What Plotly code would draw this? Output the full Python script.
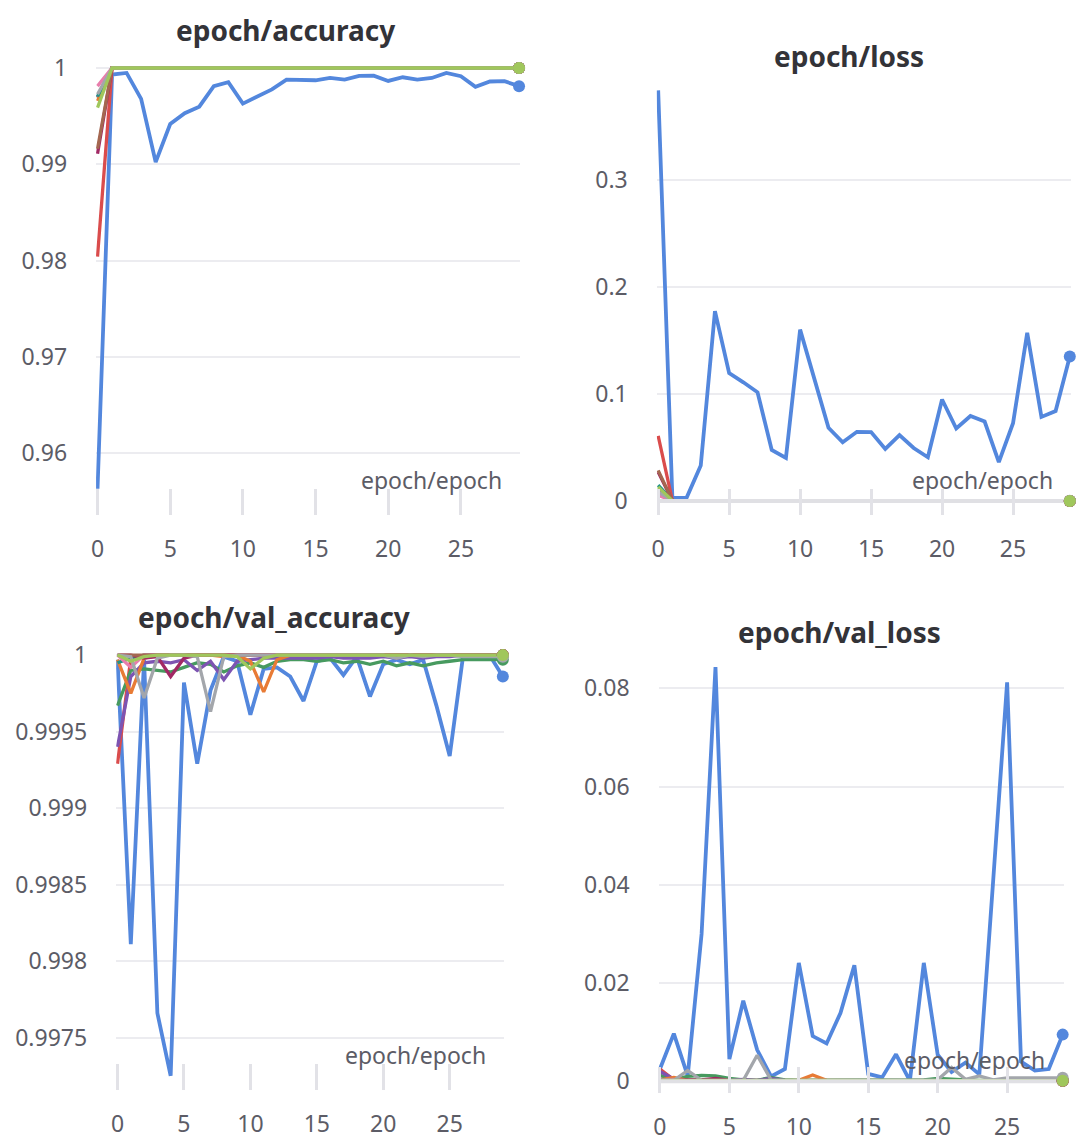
import plotly.graph_objects as go

# ---------------- data ----------------
epochs = list(range(30))

run_names = ["blue", "red", "green", "purple", "orange", "teal", "maroon", "pink", "brown", "grey", "lightgreen"]
run_colors = ["#5387DD", "#DA4C4C", "#479A5F", "#7D54B2", "#E87B35", "#229487", "#A12864", "#E87EAC", "#A46750", "#A3A6AB", "#A0C75C"]

# epoch/accuracy
acc_blue = [0.9563, 0.99932, 0.99949, 0.9968, 0.99023, 0.99418, 0.99531, 0.99599, 0.99812, 0.99853, 0.9963, 0.99702, 0.99778, 0.9988, 0.99873, 0.99873, 0.99897, 0.9988, 0.99918, 0.99921, 0.99866, 0.99904, 0.9988, 0.99897, 0.99949, 0.99915, 0.99805, 0.9986, 0.99863, 0.99812]
acc_red = [0.98041, 1.0, 1.0, 1.0, 1.0, 1.0, 1.0, 1.0, 1.0, 1.0, 1.0, 1.0, 1.0, 1.0, 1.0, 1.0, 1.0, 1.0, 1.0, 1.0, 1.0, 1.0, 1.0, 1.0, 1.0, 1.0, 1.0, 1.0, 1.0, 1.0]
acc_green = [0.99692, 1.0, 1.0, 1.0, 1.0, 1.0, 1.0, 1.0, 1.0, 1.0, 1.0, 1.0, 1.0, 1.0, 1.0, 1.0, 1.0, 1.0, 1.0, 1.0, 1.0, 1.0, 1.0, 1.0, 1.0, 1.0, 1.0, 1.0, 1.0, 1.0]
acc_purple = [0.99700, 1.0, 1.0, 1.0, 1.0, 1.0, 1.0, 1.0, 1.0, 1.0, 1.0, 1.0, 1.0, 1.0, 1.0, 1.0, 1.0, 1.0, 1.0, 1.0, 1.0, 1.0, 1.0, 1.0, 1.0, 1.0, 1.0, 1.0, 1.0, 1.0]
acc_orange = [0.99658, 1.0, 1.0, 1.0, 1.0, 1.0, 1.0, 1.0, 1.0, 1.0, 1.0, 1.0, 1.0, 1.0, 1.0, 1.0, 1.0, 1.0, 1.0, 1.0, 1.0, 1.0, 1.0, 1.0, 1.0, 1.0, 1.0, 1.0, 1.0, 1.0]
acc_teal = [0.99705, 1.0, 1.0, 1.0, 1.0, 1.0, 1.0, 1.0, 1.0, 1.0, 1.0, 1.0, 1.0, 1.0, 1.0, 1.0, 1.0, 1.0, 1.0, 1.0, 1.0, 1.0, 1.0, 1.0, 1.0, 1.0, 1.0, 1.0, 1.0, 1.0]
acc_maroon = [0.9911, 1.0, 1.0, 0.99997, 1.0, 1.0, 0.99998, 0.99996, 1.0, 1.0, 1.0, 1.0, 0.99994, 1.0, 1.0, 1.0, 1.0, 1.0, 1.0, 1.0, 1.0, 1.0, 1.0, 1.0, 1.0, 1.0, 1.0, 1.0, 1.0, 1.0]
acc_pink = [0.99812, 1.0, 1.0, 1.0, 1.0, 1.0, 1.0, 1.0, 1.0, 1.0, 1.0, 1.0, 1.0, 1.0, 1.0, 1.0, 1.0, 1.0, 1.0, 1.0, 1.0, 1.0, 1.0, 1.0, 1.0, 1.0, 1.0, 1.0, 1.0, 1.0]
acc_brown = [0.99161, 1.0, 1.0, 1.0, 1.0, 1.0, 1.0, 1.0, 1.0, 1.0, 1.0, 1.0, 1.0, 1.0, 1.0, 1.0, 1.0, 1.0, 1.0, 1.0, 1.0, 1.0, 1.0, 1.0, 1.0, 1.0, 1.0, 1.0, 1.0, 1.0]
acc_grey = [0.99727, 1.0, 1.0, 1.0, 1.0, 1.0, 1.0, 1.0, 1.0, 1.0, 1.0, 1.0, 1.0, 1.0, 1.0, 1.0, 1.0, 1.0, 1.0, 1.0, 1.0, 1.0, 1.0, 1.0, 1.0, 1.0, 1.0, 1.0, 1.0, 1.0]
acc_lightgreen = [0.99589, 1.0, 1.0, 1.0, 1.0, 1.0, 1.0, 1.0, 1.0, 1.0, 1.0, 1.0, 1.0, 1.0, 1.0, 1.0, 1.0, 1.0, 1.0, 1.0, 1.0, 1.0, 1.0, 1.0, 1.0, 1.0, 1.0, 1.0, 1.0, 1.0]

# epoch/loss
loss_blue = [0.3833, 0.003, 0.003, 0.0332, 0.1772, 0.1194, 0.1108, 0.1015, 0.0477, 0.0403, 0.16, 0.1148, 0.0683, 0.0548, 0.0646, 0.0643, 0.0486, 0.0615, 0.0495, 0.0409, 0.0948, 0.0677, 0.0794, 0.0742, 0.0363, 0.0726, 0.1569, 0.0785, 0.084, 0.1348]
loss_red = [0.0609, 0.0004, 0.0003, 0.0002, 0.0002, 0.0002, 0.0001, 0.0002, 0.0001, 0.0001, 0.0001, 0.0001, 0.0002, 0.0001, 0.0001, 0.0001, 0.0001, 0.0001, 0.0001, 0.0001, 0.0001, 0.0001, 0.0001, 0.0001, 0.0001, 0.0001, 0.0001, 0.0001, 0.0001, 0.0001]
loss_green = [0.0116, 0.0004, 0.0003, 0.0002, 0.0002, 0.0002, 0.0002, 0.0002, 0.0002, 0.0001, 0.0001, 0.0001, 0.0001, 0.0001, 0.0001, 0.0001, 0.0001, 0.0001, 0.0001, 0.0001, 0.0001, 0.0001, 0.0001, 0.0001, 0.0001, 0.0001, 0.0001, 0.0001, 0.0001, 0.0001]
loss_purple = [0.0090, 0.0003, 0.0002, 0.0002, 0.0002, 0.0001, 0.0001, 0.0002, 0.0006, 0.0002, 0.0001, 0.0001, 0.0001, 0.0001, 0.0001, 0.0001, 0.0001, 0.0001, 0.0001, 0.0001, 0.0001, 0.0001, 0.0001, 0.0001, 0.0001, 0.0001, 0.0001, 0.0001, 0.0001, 0.0001]
loss_orange = [0.0080, 0.0003, 0.0002, 0.0002, 0.0001, 0.0001, 0.0001, 0.0001, 0.0001, 0.0001, 0.0001, 0.0001, 0.0001, 0.0001, 0.0001, 0.0001, 0.0001, 0.0001, 0.0001, 0.0001, 0.0001, 0.0001, 0.0001, 0.0001, 0.0001, 0.0001, 0.0001, 0.0001, 0.0001, 0.0001]
loss_teal = [0.0148, 0.0004, 0.0002, 0.0002, 0.0001, 0.0001, 0.0001, 0.0001, 0.0001, 0.0001, 0.0001, 0.0001, 0.0001, 0.0001, 0.0001, 0.0001, 0.0001, 0.0001, 0.0001, 0.0001, 0.0001, 0.0001, 0.0001, 0.0001, 0.0001, 0.0001, 0.0001, 0.0001, 0.0001, 0.0001]
loss_maroon = [0.0270, 0.0004, 0.0003, 0.0004, 0.0002, 0.0002, 0.0003, 0.0004, 0.0002, 0.0002, 0.0001, 0.0001, 0.0005, 0.0001, 0.0001, 0.0001, 0.0001, 0.0001, 0.0001, 0.0001, 0.0001, 0.0001, 0.0001, 0.0001, 0.0001, 0.0001, 0.0001, 0.0001, 0.0001, 0.0001]
loss_pink = [0.0055, 0.0003, 0.0002, 0.0001, 0.0001, 0.0001, 0.0001, 0.0001, 0.0001, 0.0001, 0.0001, 0.0001, 0.0001, 0.0001, 0.0001, 0.0001, 0.0001, 0.0001, 0.0001, 0.0001, 0.0001, 0.0001, 0.0001, 0.0001, 0.0001, 0.0001, 0.0001, 0.0001, 0.0001, 0.0001]
loss_brown = [0.0286, 0.0005, 0.0003, 0.0002, 0.0002, 0.0001, 0.0001, 0.0001, 0.0001, 0.0001, 0.0001, 0.0001, 0.0001, 0.0001, 0.0001, 0.0001, 0.0001, 0.0001, 0.0001, 0.0001, 0.0001, 0.0001, 0.0001, 0.0001, 0.0001, 0.0001, 0.0001, 0.0001, 0.0001, 0.0001]
loss_grey = [0.0085, 0.0004, 0.0003, 0.0002, 0.0002, 0.0002, 0.0002, 0.0003, 0.0002, 0.0002, 0.0002, 0.0002, 0.0002, 0.0002, 0.0004, 0.0002, 0.0002, 0.0002, 0.0002, 0.0002, 0.0002, 0.0002, 0.0002, 0.0002, 0.0002, 0.0002, 0.0002, 0.0002, 0.0002, 0.0002]
loss_lightgreen = [0.0132, 0.0004, 0.0002, 0.0002, 0.0001, 0.0001, 0.0001, 0.0001, 0.0001, 0.0001, 0.0001, 0.0001, 0.0001, 0.0001, 0.0001, 0.0001, 0.0001, 0.0001, 0.0001, 0.0001, 0.0001, 0.0001, 0.0001, 0.0001, 0.0001, 0.0001, 0.0001, 0.0001, 0.0001, 0.0001]

# epoch/val_accuracy
vacc_blue = [0.99997, 0.99811, 0.99997, 0.99766, 0.99725, 0.99982, 0.99929, 0.99977, 0.99999, 0.99996, 0.99961, 0.99991, 0.99992, 0.99986, 0.9997, 0.99996, 0.99998, 0.99987, 0.99999, 0.99973, 0.99994, 0.99997, 0.99994, 0.99997, 0.99967, 0.99934, 0.99999, 1.0, 1.0, 0.99986]
vacc_red = [0.99929, 0.99998, 1.0, 1.0, 1.0, 1.0, 1.0, 1.0, 1.0, 1.0, 1.0, 1.0, 1.0, 1.0, 1.0, 1.0, 1.0, 1.0, 1.0, 1.0, 1.0, 1.0, 1.0, 1.0, 1.0, 1.0, 1.0, 1.0, 1.0, 1.0]
vacc_green = [0.99967, 0.9999, 0.99991, 0.9999, 0.99989, 0.99992, 0.99995, 0.99994, 0.99989, 0.99993, 0.99995, 0.99992, 0.99996, 0.99997, 0.99997, 0.99996, 0.99997, 0.99995, 0.99996, 0.99994, 0.99996, 0.99993, 0.99995, 0.99993, 0.99995, 0.99996, 0.99997, 0.99997, 0.99997, 0.99997]
vacc_purple = [0.9994, 0.99986, 0.99995, 0.99996, 0.99995, 0.99997, 0.9999, 0.99996, 0.99984, 0.99996, 0.99997, 0.99998, 0.99998, 0.99998, 0.99998, 0.99998, 0.99999, 0.99998, 0.99998, 0.99998, 0.99999, 0.99998, 0.99999, 0.99998, 0.99999, 0.99999, 1.0, 1.0, 1.0, 1.0]
vacc_orange = [0.99997, 0.99975, 0.99998, 1.0, 1.0, 1.0, 1.0, 1.0, 0.99999, 1.0, 0.99996, 0.99976, 0.99997, 1.0, 1.0, 1.0, 1.0, 1.0, 1.0, 1.0, 1.0, 1.0, 1.0, 1.0, 1.0, 1.0, 1.0, 1.0, 1.0, 1.0]
vacc_teal = [0.99995, 0.99998, 1.0, 1.0, 1.0, 1.0, 1.0, 1.0, 1.0, 1.0, 1.0, 1.0, 1.0, 1.0, 1.0, 1.0, 1.0, 1.0, 1.0, 1.0, 1.0, 1.0, 1.0, 1.0, 1.0, 1.0, 1.0, 1.0, 1.0, 1.0]
vacc_maroon = [1.0, 1.0, 0.99998, 0.99999, 0.99986, 0.99998, 1.0, 1.0, 1.0, 1.0, 1.0, 1.0, 1.0, 1.0, 1.0, 1.0, 1.0, 1.0, 1.0, 1.0, 1.0, 1.0, 1.0, 1.0, 1.0, 1.0, 1.0, 1.0, 1.0, 1.0]
vacc_pink = [1.0, 0.99992, 1.0, 1.0, 1.0, 1.0, 1.0, 1.0, 1.0, 1.0, 1.0, 1.0, 1.0, 1.0, 1.0, 1.0, 1.0, 1.0, 1.0, 1.0, 1.0, 1.0, 1.0, 1.0, 1.0, 1.0, 1.0, 1.0, 1.0, 1.0]
vacc_brown = [1.0, 1.0, 1.0, 1.0, 1.0, 1.0, 1.0, 1.0, 1.0, 1.0, 1.0, 1.0, 1.0, 1.0, 1.0, 1.0, 1.0, 1.0, 1.0, 1.0, 1.0, 1.0, 1.0, 1.0, 1.0, 1.0, 1.0, 1.0, 1.0, 1.0]
vacc_grey = [1.0, 0.99999, 0.99972, 0.99998, 1.0, 1.0, 0.99999, 0.99963, 0.99999, 1.0, 1.0, 1.0, 1.0, 1.0, 1.0, 1.0, 1.0, 1.0, 1.0, 1.0, 1.0, 0.99998, 1.0, 0.99999, 1.0, 1.0, 0.99999, 0.99999, 0.99999, 0.99999]
vacc_lightgreen = [1.0, 0.99996, 0.99999, 1.0, 1.0, 1.0, 1.0, 1.0, 1.0, 0.99999, 0.99991, 0.99998, 1.0, 1.0, 1.0, 1.0, 1.0, 1.0, 1.0, 1.0, 1.0, 1.0, 1.0, 1.0, 1.0, 1.0, 1.0, 1.0, 1.0, 1.0]

# epoch/val_loss
vloss_blue = [0.0025, 0.0097, 0.0011, 0.030, 0.0843, 0.0045, 0.0164, 0.0064, 0.001, 0.0025, 0.0241, 0.0092, 0.0077, 0.0139, 0.0236, 0.0015, 0.0008, 0.0055, 0.0001, 0.0241, 0.0054, 0.0019, 0.0038, 0.0014, 0.041, 0.0812, 0.004, 0.0022, 0.0025, 0.0095]
vloss_red = [0.0025, 0.0003, 0.0002, 0.0002, 0.0001, 0.0001, 0.0001, 0.0001, 0.0001, 0.0001, 0.0001, 0.0001, 0.0001, 0.0001, 0.0001, 0.0001, 0.0001, 0.0001, 0.0001, 0.0001, 0.0001, 0.0001, 0.0001, 0.0001, 0.0001, 0.0001, 0.0001, 0.0001, 0.0001, 0.0001]
vloss_green = [0.0012, 0.0004, 0.0010, 0.0012, 0.0011, 0.0006, 0.0003, 0.0002, 0.0008, 0.0003, 0.0002, 0.0002, 0.0002, 0.0002, 0.0003, 0.0002, 0.0002, 0.0002, 0.0002, 0.0003, 0.0006, 0.0004, 0.0003, 0.0002, 0.0002, 0.0002, 0.0002, 0.0002, 0.0002, 0.0002]
vloss_purple = [0.0020, 0.0005, 0.0003, 0.0002, 0.0002, 0.0002, 0.0004, 0.0002, 0.0006, 0.0002, 0.0001, 0.0001, 0.0001, 0.0001, 0.0001, 0.0001, 0.0001, 0.0001, 0.0001, 0.0001, 0.0001, 0.0001, 0.0001, 0.0001, 0.0001, 0.0001, 0.0001, 0.0001, 0.0001, 0.0001]
vloss_orange = [0.0003, 0.0008, 0.0002, 0.0001, 0.0001, 0.0001, 0.0001, 0.0001, 0.0001, 0.0001, 0.0002, 0.0013, 0.0002, 0.0001, 0.0001, 0.0001, 0.0001, 0.0001, 0.0001, 0.0001, 0.0001, 0.0001, 0.0001, 0.0001, 0.0001, 0.0001, 0.0001, 0.0001, 0.0001, 0.0001]
vloss_teal = [0.0004, 0.0002, 0.0001, 0.0001, 0.0001, 0.0001, 0.0001, 0.0001, 0.0001, 0.0001, 0.0001, 0.0001, 0.0001, 0.0001, 0.0001, 0.0001, 0.0001, 0.0001, 0.0001, 0.0001, 0.0001, 0.0001, 0.0001, 0.0001, 0.0001, 0.0001, 0.0001, 0.0001, 0.0001, 0.0001]
vloss_maroon = [0.0004, 0.0002, 0.0003, 0.0003, 0.0006, 0.0002, 0.0001, 0.0001, 0.0001, 0.0001, 0.0001, 0.0001, 0.0001, 0.0001, 0.0001, 0.0001, 0.0001, 0.0001, 0.0001, 0.0001, 0.0001, 0.0001, 0.0001, 0.0001, 0.0001, 0.0001, 0.0001, 0.0001, 0.0001, 0.0001]
vloss_pink = [0.0003, 0.0004, 0.0001, 0.0001, 0.0001, 0.0001, 0.0001, 0.0001, 0.0001, 0.0001, 0.0001, 0.0001, 0.0001, 0.0001, 0.0001, 0.0001, 0.0001, 0.0001, 0.0001, 0.0001, 0.0001, 0.0001, 0.0001, 0.0001, 0.0001, 0.0001, 0.0001, 0.0001, 0.0001, 0.0001]
vloss_brown = [0.0002, 0.0001, 0.0001, 0.0001, 0.0001, 0.0001, 0.0001, 0.0001, 0.0001, 0.0001, 0.0001, 0.0001, 0.0001, 0.0001, 0.0001, 0.0001, 0.0001, 0.0001, 0.0001, 0.0001, 0.0001, 0.0001, 0.0001, 0.0001, 0.0001, 0.0001, 0.0001, 0.0001, 0.0001, 0.0001]
vloss_grey = [0.0003, 0.0002, 0.0022, 0.0002, 0.0002, 0.0002, 0.0002, 0.0053, 0.0003, 0.0002, 0.0002, 0.0002, 0.0002, 0.0002, 0.0002, 0.0002, 0.0002, 0.0002, 0.0002, 0.0002, 0.0003, 0.0028, 0.0004, 0.0011, 0.0003, 0.0007, 0.0007, 0.0007, 0.0007, 0.0007]
vloss_lightgreen = [0.0002, 0.0002, 0.0001, 0.0001, 0.0001, 0.0001, 0.0001, 0.0001, 0.0001, 0.0001, 0.0001, 0.0001, 0.0001, 0.0001, 0.0001, 0.0001, 0.0001, 0.0001, 0.0001, 0.0001, 0.0001, 0.0001, 0.0001, 0.0001, 0.0001, 0.0001, 0.0001, 0.0001, 0.0001, 0.0001]

panel_titles = ["epoch/accuracy", "epoch/loss", "epoch/val_accuracy", "epoch/val_loss"]
x_title = "epoch/epoch"
x_tickvals = [0, 5, 10, 15, 20, 25]
x_ticktext = ["0", "5", "10", "15", "20", "25"]
acc_tickvals = [0.96, 0.97, 0.98, 0.99, 1.0]
acc_ticktext = ["0.96", "0.97", "0.98", "0.99", "1"]
loss_tickvals = [0, 0.1, 0.2, 0.3]
loss_ticktext = ["0", "0.1", "0.2", "0.3"]
vacc_tickvals = [0.9975, 0.998, 0.9985, 0.999, 0.9995, 1.0]
vacc_ticktext = ["0.9975", "0.998", "0.9985", "0.999", "0.9995", "1"]
vloss_tickvals = [0, 0.02, 0.04, 0.06, 0.08]
vloss_ticktext = ["0", "0.02", "0.04", "0.06", "0.08"]

panels = [
    [acc_blue, acc_red, acc_green, acc_purple, acc_orange, acc_teal, acc_maroon, acc_pink, acc_brown, acc_grey, acc_lightgreen],
    [loss_blue, loss_red, loss_green, loss_purple, loss_orange, loss_teal, loss_maroon, loss_pink, loss_brown, loss_grey, loss_lightgreen],
    [vacc_blue, vacc_red, vacc_green, vacc_purple, vacc_orange, vacc_teal, vacc_maroon, vacc_pink, vacc_brown, vacc_grey, vacc_lightgreen],
    [vloss_blue, vloss_red, vloss_green, vloss_purple, vloss_orange, vloss_teal, vloss_maroon, vloss_pink, vloss_brown, vloss_grey, vloss_lightgreen],
]

# ---------------- layout geometry (pixels) ----------------
W, H = 1076, 1142
FONT = "Noto Sans, Open Sans, sans-serif"
TICK_COLOR = "#5c5c66"
GRID = "#ececf0"

geom = [
    dict(xpx=(91.5, 517.9), ypx=(50, 513), yr=[0.95362, 1.0012], tv=acc_tickvals, tt=acc_ticktext,
         title=(281.7, 23.3), xt=(501.7, 478), zero=False),
    dict(xpx=(654.8, 1071.2), ypx=(80, 513), yr=[-0.01265, 0.38717], tv=loss_tickvals, tt=loss_ticktext,
         title=(848, 50), xt=(1055, 478.3), zero=True),
    dict(xpx=(111.7, 501.5), ypx=(645, 1095), yr=[0.9971539, 1.0000647], tv=vacc_tickvals, tt=vacc_ticktext,
         title=(270, 616.7), xt=(485, 1059.3), zero=False),
    dict(xpx=(656.6, 1064.0), ypx=(660, 1098), yr=[-0.002477, 0.08574], tv=vloss_tickvals, tt=vloss_ticktext,
         title=(838, 631.7), xt=(1047, 1064), zero=True),
]

fig = go.Figure()
layout = dict(width=W, height=H, margin=dict(l=0, r=0, t=0, b=0), autosize=False,
              paper_bgcolor="white", plot_bgcolor="white", showlegend=False,
              font=dict(family=FONT, color=TICK_COLOR))
annotations = []

for i, g in enumerate(geom):
    n = "" if i == 0 else str(i + 1)
    xa, ya = "x" + n, "y" + n
    series = panels[i]
    for j, ys in enumerate(series):
        fig.add_trace(go.Scatter(x=epochs, y=ys, mode="lines", xaxis=xa, yaxis=ya,
                                 line=dict(color=run_colors[j], width=3.8 if j == 0 else 3.3),
                                 name=run_names[j], hoverinfo="skip"))
    if g["zero"]:
        fig.add_trace(go.Scatter(x=[epochs[0], epochs[-1]], y=[0, 0], mode="lines", xaxis=xa, yaxis=ya,
                                 line=dict(color="#e0e0e4", width=4), hoverinfo="skip"))
    for j, ys in enumerate(series):
        fig.add_trace(go.Scatter(x=[epochs[-1]], y=[ys[-1]], mode="markers", xaxis=xa, yaxis=ya,
                                 marker=dict(color=run_colors[j], size=12), cliponaxis=False,
                                 hoverinfo="skip"))
    x0, x1 = g["xpx"]
    top, bot = g["ypx"]
    layout["xaxis" + n] = dict(domain=[x0 / W, x1 / W], range=[-0.1, 29.1], anchor=ya,
                               tickvals=x_tickvals, ticktext=x_ticktext, ticks="inside",
                               ticklen=26, tickwidth=3, tickcolor="#e2e2e7", showgrid=False,
                               zeroline=False, showline=False, ticklabelstandoff=18,
                               tickfont=dict(size=23, color=TICK_COLOR, family=FONT))
    layout["yaxis" + n] = dict(domain=[1 - bot / H, 1 - top / H], range=g["yr"], anchor=xa,
                               tickvals=g["tv"], ticktext=g["tt"], showgrid=True, gridcolor=GRID,
                               gridwidth=1.5, zeroline=False, showline=False, ticks="",
                               ticklabelstandoff=28,
                               tickfont=dict(size=23, color=TICK_COLOR, family=FONT))
    tx, ty = g["title"]
    annotations.append(dict(text="<b>" + panel_titles[i] + "</b>", x=tx / W, y=1 - ty / H,
                            xref="paper", yref="paper", xanchor="center", yanchor="middle",
                            showarrow=False, font=dict(size=28, color="#333338", family=FONT)))
    ex, ey = g["xt"]
    annotations.append(dict(text=x_title, x=ex / W, y=1 - ey / H, xref="paper", yref="paper",
                            xanchor="right", yanchor="middle", showarrow=False,
                            font=dict(size=23, color=TICK_COLOR, family=FONT)))

layout["annotations"] = annotations
fig.update_layout(**layout)
fig.write_html("out.html")
